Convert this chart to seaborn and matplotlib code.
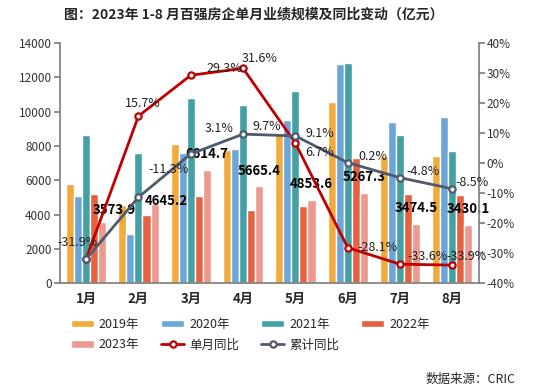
import matplotlib
matplotlib.use('Agg')
import matplotlib.pyplot as plt
from matplotlib.patches import Patch
from matplotlib.lines import Line2D
import seaborn as sns
import pandas as pd

# data (亿元 / %)
months = ['1月', '2月', '3月', '4月', '5月', '6月', '7月', '8月']
years = ['2019年', '2020年', '2021年', '2022年', '2023年']
sales_2019 = [5800, 4550, 8150, 7780, 8650, 10550, 7450, 7450]
sales_2020 = [5100, 2900, 7620, 7860, 9500, 12780, 9400, 9720]
sales_2021 = [8650, 7600, 10780, 10370, 11200, 12860, 8650, 7720]
sales_2022 = [5200, 3960, 5080, 4250, 4500, 7300, 5200, 5150]
sales_2023 = [3573.9, 4645.2, 6614.7, 5665.4, 4853.6, 5267.3, 3474.5, 3430.1]
yoy_month = [-31.9, 15.7, 29.3, 31.6, 6.7, -28.1, -33.6, -33.9]
yoy_cum = [-31.9, -11.3, 3.1, 9.7, 9.1, 0.2, -4.8, -8.5]

bar_colors = ['#F0AB3C', '#6CA6D9', '#45A0A3', '#E5613F', '#EC9A8F']
red = '#C00000'
slate = '#4E5A6E'

sns.set_theme(style='white')
plt.rcParams['font.family'] = ['Noto Sans CJK SC', 'DejaVu Sans']
plt.rcParams['axes.unicode_minus'] = False

rows = []
for yr, vals in zip(years, [sales_2019, sales_2020, sales_2021, sales_2022, sales_2023]):
    for m, v in zip(months, vals):
        rows.append({'month': m, 'year': yr, 'value': v})
df = pd.DataFrame(rows)

fig = plt.figure(figsize=(5.45, 3.92), dpi=100)
ax = fig.add_axes([0.110, 0.277, 0.768, 0.613])

sns.barplot(data=df, x='month', y='value', hue='year', palette=bar_colors,
            width=0.77, gap=0, ax=ax, legend=False, saturation=1)
ax.set_xlim(-0.5, 7.5)
ax.set_ylim(0, 14000)
ax.set_yticks(range(0, 14001, 2000))
ax.set_xlabel('')
ax.set_ylabel('')
ax.set_xticks(range(8))
ax.set_xticklabels(months, fontweight='bold', fontsize=9.5)
ax.set_xticks([i - 0.5 for i in range(9)], minor=True)
ax.tick_params(axis='x', which='major', length=0, pad=6)
ax.tick_params(axis='x', which='minor', length=4, color='#808080', direction='out')
ax.tick_params(axis='y', length=4, color='#808080', direction='out', labelsize=8.5,
               labelcolor='#333333', pad=2, left=True)
for s in ['left', 'bottom']:
    ax.spines[s].set_color('#808080')
for s in ['top', 'right']:
    ax.spines[s].set_visible(False)

# 2023 value labels
lab_off = [(12, 12), (12, 3), (0, 16), (0, 15), (0, 16), (0, 16), (0, 16), (0, 16)]
bar_w = 0.77 / 5
for i, v in enumerate(sales_2023):
    ax.annotate(f'{v:.1f}', (i + 2 * bar_w, v), xytext=lab_off[i],
                textcoords='offset pixels', ha='center', va='center',
                fontsize=9.5, fontweight='bold', color='black', zorder=6)

ax2 = ax.twinx()
ax2.set_position(ax.get_position())
xs = list(range(8))
sns.lineplot(x=xs, y=yoy_month, ax=ax2, color=red, linewidth=2, marker='o',
             markersize=4.5, markerfacecolor='white', markeredgecolor=red,
             markeredgewidth=1.6, zorder=4)
sns.lineplot(x=xs, y=yoy_cum, ax=ax2, color=slate, linewidth=2, marker='o',
             markersize=4.5, markerfacecolor='white', markeredgecolor=slate,
             markeredgewidth=1.6, zorder=4)
ax2.set_ylim(-40, 40)
ax2.set_yticks(range(-40, 41, 10))
ax2.set_yticklabels([f'{t}%' for t in range(-40, 41, 10)])
ax2.tick_params(axis='y', length=4, color='#808080', direction='out', labelsize=8.5,
                labelcolor='#333333', pad=2, right=True)
ax2.set_xlim(-0.5, 7.5)
ax2.spines['right'].set_color('#808080')
for s in ['top', 'left', 'bottom']:
    ax2.spines[s].set_visible(False)

month_off = [(-9, 17), (4, 13), (34, 7), (17, 10), (24, -9), (30, 0), (28, 8), (14, 9)]
cum_off = [None, (30, 28), (28, 25), (24, 8), (24, 2), (25, 6), (23, 6), (20, 6)]
for i, v in enumerate(yoy_month):
    ax2.annotate(f'{v}%', (i, v), xytext=month_off[i], textcoords='offset pixels',
                 ha='center', va='center', fontsize=9, color='#222222', zorder=6)
for i, v in enumerate(yoy_cum):
    if cum_off[i] is None:
        continue
    ax2.annotate(f'{v}%', (i, v), xytext=cum_off[i], textcoords='offset pixels',
                 ha='center', va='center', fontsize=9, color='#222222', zorder=6)

handles = [Patch(facecolor=c, label=y) for c, y in zip(bar_colors, years)]
handles.append(Line2D([], [], color=red, linewidth=2, marker='o', markersize=4.5,
                      markerfacecolor='white', markeredgewidth=1.6, label='单月同比'))
handles.append(Line2D([], [], color=slate, linewidth=2, marker='o', markersize=4.5,
                      markerfacecolor='white', markeredgewidth=1.6, label='累计同比'))
order = [0, 4, 1, 5, 2, 6, 3]
fig.legend([handles[i] for i in order], [handles[i].get_label() for i in order],
           ncol=4, loc='upper left', bbox_to_anchor=(0.118, 0.205), frameon=False,
           fontsize=9, handlelength=1.85, handleheight=0.6, handletextpad=0.4,
           columnspacing=1.75, labelspacing=0.6, borderpad=0)

fig.text(0.465, 0.963, '图：2023年 1-8 月百强房企单月业绩规模及同比变动（亿元）',
         ha='center', va='center', fontsize=10, fontweight='bold')
fig.text(0.945, 0.031, '数据来源：CRIC', ha='right', va='center', fontsize=9)

fig.savefig('out.png', dpi=100)
